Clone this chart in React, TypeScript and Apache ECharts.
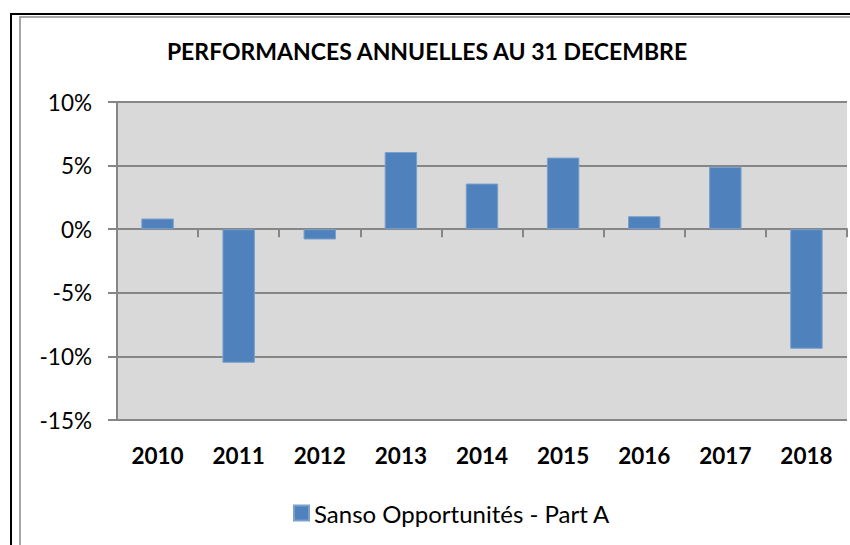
import React, { useEffect, useRef } from "react";
import * as echarts from "echarts";

const categories = ["2010", "2011", "2012", "2013", "2014", "2015", "2016", "2017", "2018"];
const seriesName = "Sanso Opportunités - Part A";
const values = [0.84, -10.5, -0.81, 6.07, 3.59, 5.63, 1.02, 4.9, -9.4];
const titleText = "PERFORMANCES ANNUELLES AU 31 DECEMBRE";

const FONT = "Lato, 'Open Sans', sans-serif";

export default function App() {
  const ref = useRef<HTMLDivElement>(null);
  useEffect(() => {
    document.body.style.margin = "0";
    document.body.style.overflow = "hidden";
    if (!ref.current) return;
    const chart = echarts.init(ref.current, null, { renderer: "svg" });
    chart.setOption({
      animation: false,
      backgroundColor: "#ffffff",
      title: {
        text: titleText,
        left: 422,
        textAlign: "center",
        top: 34,
        textStyle: { fontFamily: FONT, fontWeight: "bold", fontSize: 23, color: "#000" },
      },
      graphic: [
        {
          type: "rect",
          shape: { x: 11, y: 14, width: 900, height: 600 },
          style: { fill: "none", stroke: "#000", lineWidth: 2 },
          silent: true,
        },
        {
          type: "rect",
          shape: { x: 20, y: 17, width: 900, height: 600 },
          style: { fill: "none", stroke: "#A6A6A6", lineWidth: 2 },
          silent: true,
        },
      ],
      legend: {
        data: [seriesName],
        left: 288,
        top: 496,
        itemWidth: 15,
        itemHeight: 15,
        itemGap: 6,
        icon: "rect",
        textStyle: { fontFamily: FONT, fontSize: 24, color: "#000" },
      },
      grid: {
        left: 117,
        top: 102,
        right: 3,
        bottom: 125,
        show: true,
        backgroundColor: "#D9D9D9",
        borderWidth: 0,
      },
      xAxis: [
        {
          type: "category",
          data: categories,
          axisLine: { onZero: true, lineStyle: { color: "#868686", width: 2 } },
          axisTick: { show: true, length: 8, lineStyle: { color: "#868686", width: 2 } },
          axisLabel: { show: false },
        },
        {
          type: "category",
          data: categories,
          position: "bottom",
          axisLine: { show: false, onZero: false },
          axisTick: { show: false },
          axisLabel: {
            margin: 24,
            fontFamily: FONT,
            fontWeight: "bold",
            fontSize: 22.5,
            color: "#000",
          },
        },
      ],
      yAxis: {
        type: "value",
        min: -15,
        max: 10,
        interval: 5,
        axisLine: { show: true, lineStyle: { color: "#868686", width: 2 } },
        axisTick: { show: true, length: 9, inside: false, lineStyle: { color: "#868686", width: 2 } },
        splitLine: { show: true, lineStyle: { color: "#868686", width: 2 } },
        axisLabel: {
          margin: 25,
          formatter: (v: number) => `${v}%`,
          fontFamily: FONT,
          fontSize: 22.5,
          color: "#000",
        },
      },
      series: [
        {
          name: seriesName,
          type: "bar",
          data: values,
          xAxisIndex: 0,
          barWidth: "40%",
          itemStyle: { color: "#4F81BD", borderColor: "#7AA0CC", borderWidth: 1 },
        },
      ],
    });
    return () => chart.dispose();
  }, []);
  return <div ref={ref} style={{ width: 850, height: 545 }} />;
}
